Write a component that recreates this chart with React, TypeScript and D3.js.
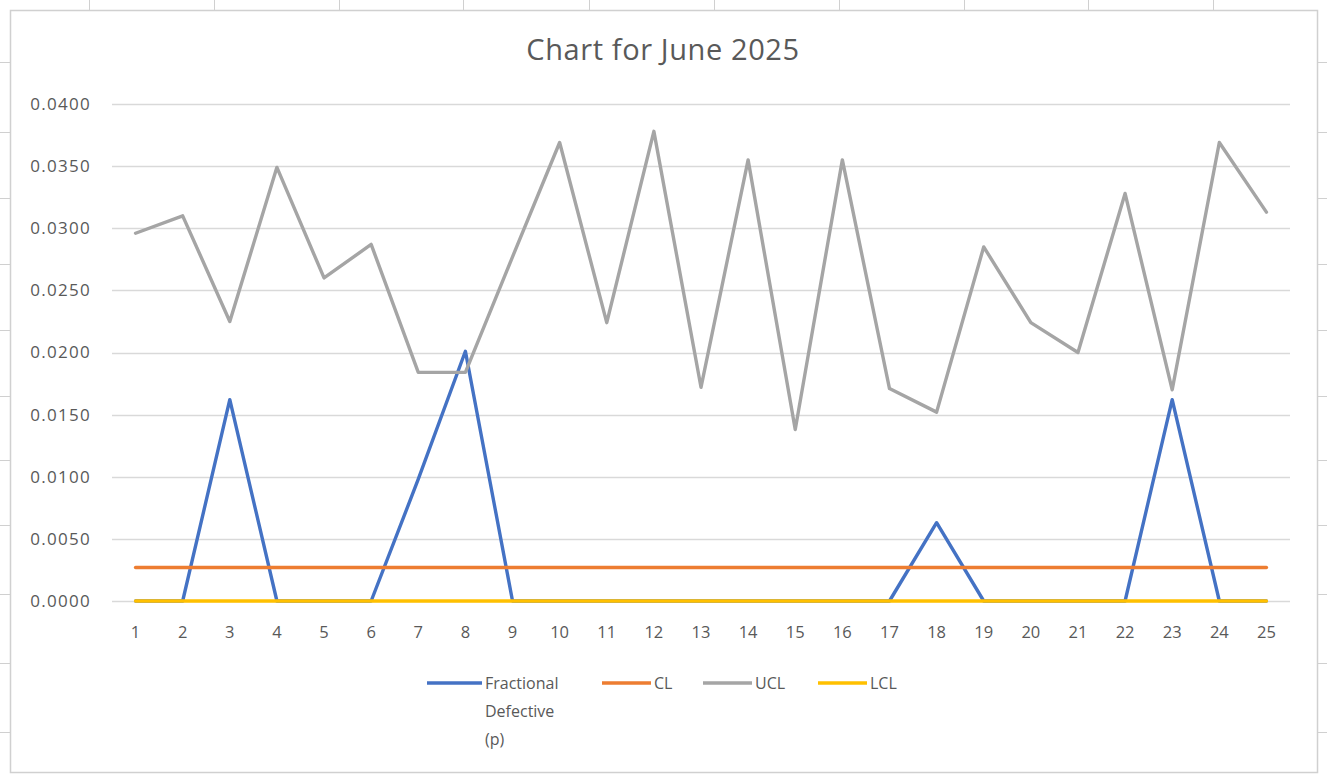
import React, { useLayoutEffect, useRef } from 'react';
import * as d3 from 'd3';

const days = [
  '1', '2', '3', '4', '5', '6', '7', '8', '9', '10', '11', '12', '13',
  '14', '15', '16', '17', '18', '19', '20', '21', '22', '23', '24', '25',
];

const fractionalDefective = [
  0, 0, 0.0162, 0, 0, 0, 0.0098, 0.0201, 0, 0, 0, 0, 0,
  0, 0, 0, 0, 0.0063, 0, 0, 0, 0, 0.0162, 0, 0,
];

const centerLine = [
  0.0027, 0.0027, 0.0027, 0.0027, 0.0027, 0.0027, 0.0027, 0.0027, 0.0027,
  0.0027, 0.0027, 0.0027, 0.0027, 0.0027, 0.0027, 0.0027, 0.0027, 0.0027,
  0.0027, 0.0027, 0.0027, 0.0027, 0.0027, 0.0027, 0.0027,
];

const upperLimit = [
  0.0296, 0.031, 0.0225, 0.0349, 0.026, 0.0287, 0.0184, 0.0184, 0.0277,
  0.0369, 0.0224, 0.0378, 0.0172, 0.0355, 0.0138, 0.0355, 0.0171, 0.0152,
  0.0285, 0.0224, 0.02, 0.0328, 0.017, 0.0369, 0.0313,
];

const lowerLimit = [
  0, 0, 0, 0, 0, 0, 0, 0, 0, 0, 0, 0, 0,
  0, 0, 0, 0, 0, 0, 0, 0, 0, 0, 0, 0,
];

const yTicks = [0, 0.005, 0.01, 0.015, 0.02, 0.025, 0.03, 0.035, 0.04];

const seriesNames = ['Fractional Defective (p)', 'CL', 'UCL', 'LCL'];
const seriesColors = ['#4472c4', '#ed7d31', '#a5a5a5', '#ffc000'];

const width = 1327;
const height = 776;
const font = "'Open Sans', 'Noto Sans', sans-serif";
const textColor = '#595959';

// spreadsheet cell borders peeking out around the chart object
const sheetCols = [89, 214, 339, 463, 589, 714, 839, 964, 1088, 1213];
const sheetRows = [62, 132, 198, 264, 330, 396, 460, 525, 594, 663, 732];

const controlChart = (container: HTMLDivElement) => {
  const root = d3.select(container);
  root.selectAll('*').remove();

  const svg = root
    .append('svg')
    .attr('width', width)
    .attr('height', height)
    .style('display', 'block')
    .style('background', '#fff');

  // sheet grid ticks
  const sheet = svg.append('g').attr('stroke', '#d0d0d0').attr('stroke-width', 1);
  sheet
    .selectAll('line.col')
    .data(sheetCols)
    .enter()
    .append('line')
    .attr('x1', (d) => d + 0.5)
    .attr('x2', (d) => d + 0.5)
    .attr('y1', 0)
    .attr('y2', 10);
  sheet
    .selectAll('line.rowl')
    .data(sheetRows)
    .enter()
    .append('line')
    .attr('x1', 0)
    .attr('x2', 10)
    .attr('y1', (d) => d + 0.5)
    .attr('y2', (d) => d + 0.5);
  sheet
    .selectAll('line.rowr')
    .data(sheetRows)
    .enter()
    .append('line')
    .attr('x1', 1318)
    .attr('x2', width)
    .attr('y1', (d) => d + 0.5)
    .attr('y2', (d) => d + 0.5);

  // chart area
  svg
    .append('rect')
    .attr('x', 10.5)
    .attr('y', 10.5)
    .attr('width', 1307)
    .attr('height', 762)
    .attr('fill', '#fff')
    .attr('stroke', '#d0d0d0')
    .attr('stroke-width', 1.5);

  svg
    .append('text')
    .attr('x', 663)
    .attr('y', 60)
    .attr('text-anchor', 'middle')
    .attr('font-family', font)
    .attr('font-size', 29)
    .attr('letter-spacing', 0.6)
    .attr('fill', textColor)
    .text('Chart for June 2025');

  const plotLeft = 112;
  const plotRight = 1290;
  const xScale = d3
    .scalePoint<string>()
    .domain(days)
    .range([plotLeft, plotRight])
    .padding(0.5);
  const yScale = d3.scaleLinear().domain([0, 0.04]).range([601, 104]);

  // gridlines
  svg
    .append('g')
    .selectAll('line')
    .data(yTicks)
    .enter()
    .append('line')
    .attr('x1', plotLeft)
    .attr('x2', plotRight)
    .attr('y1', (d) => Math.round(yScale(d)) + 0.5)
    .attr('y2', (d) => Math.round(yScale(d)) + 0.5)
    .attr('stroke', '#d9d9d9')
    .attr('stroke-width', 1.5);

  // y labels
  svg
    .append('g')
    .selectAll('text')
    .data(yTicks)
    .enter()
    .append('text')
    .attr('x', 91)
    .attr('y', (d) => yScale(d))
    .attr('dy', '0.35em')
    .attr('text-anchor', 'end')
    .attr('font-family', font)
    .attr('font-size', 17)
    .attr('letter-spacing', 1.3)
    .attr('fill', textColor)
    .text((d) => d3.format('.4f')(d));

  // x labels
  svg
    .append('g')
    .selectAll('text')
    .data(days)
    .enter()
    .append('text')
    .attr('x', (d) => xScale(d) || 0)
    .attr('y', 632)
    .attr('dy', '0.35em')
    .attr('text-anchor', 'middle')
    .attr('font-family', font)
    .attr('font-size', 16.5)
    .attr('fill', textColor)
    .text((d) => d);

  const line = d3
    .line<number>()
    .x((_, i) => xScale(days[i]) || 0)
    .y((d) => yScale(d));

  const series = [fractionalDefective, centerLine, upperLimit, lowerLimit];
  svg
    .append('g')
    .selectAll('path')
    .data(series)
    .enter()
    .append('path')
    .attr('d', (d) => line(d))
    .attr('fill', 'none')
    .attr('stroke', (_, i) => seriesColors[i])
    .attr('stroke-width', 3.4)
    .attr('stroke-linejoin', 'round')
    .attr('stroke-linecap', 'round');

  // legend
  const legendX = [427, 602, 703, 818];
  const legendY = 683;
  const legend = svg
    .append('g')
    .selectAll('g')
    .data(seriesNames)
    .enter()
    .append('g')
    .attr('transform', (_, i) => `translate(${legendX[i]},${legendY})`);
  legend
    .append('line')
    .attr('x1', 0)
    .attr('x2', (_, i) => (i === 0 ? 55 : 49))
    .attr('y1', 0)
    .attr('y2', 0)
    .attr('stroke', (_, i) => seriesColors[i])
    .attr('stroke-width', 3.4);
  legend
    .append('text')
    .attr('x', (_, i) => (i === 0 ? 58 : 52))
    .attr('y', 0)
    .attr('font-family', font)
    .attr('font-size', 16)
    .attr('fill', textColor)
    .each(function (d, i) {
      const words = i === 0 ? ['Fractional', 'Defective', '(p)'] : [d];
      const t = d3.select(this);
      words.forEach((w, k) => {
        t.append('tspan')
          .attr('x', i === 0 ? 58 : 52)
          .attr('dy', k === 0 ? '0.35em' : '1.75em')
          .text(w);
      });
    });
};

export default function App() {
  const rootEl = useRef<HTMLDivElement>(null);

  useLayoutEffect(() => {
    document.body.style.margin = '0';
    if (rootEl.current) {
      controlChart(rootEl.current);
    }
  }, []);

  return <div ref={rootEl} />;
}
